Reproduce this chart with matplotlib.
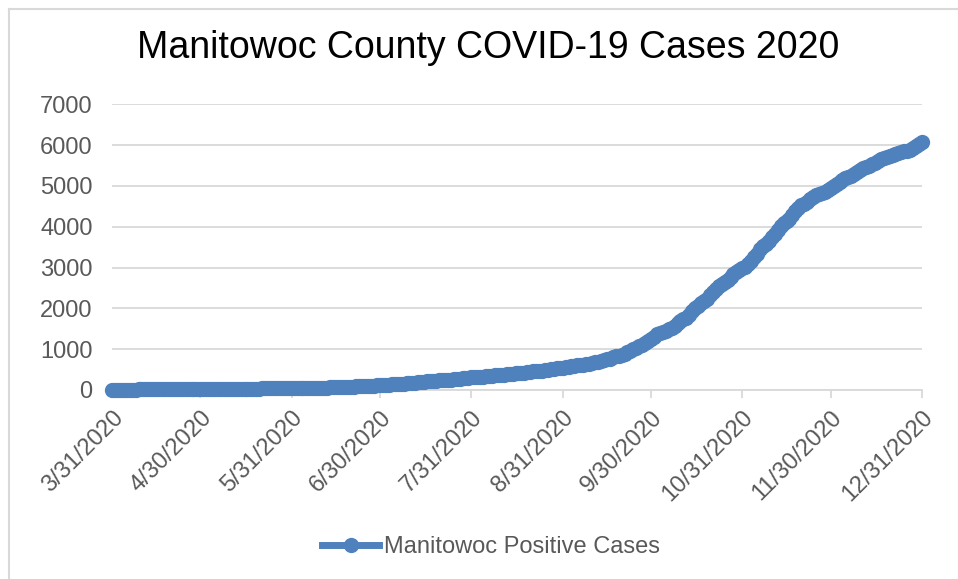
import matplotlib
matplotlib.use("Agg")
import matplotlib.pyplot as plt
import pandas as pd
from matplotlib.lines import Line2D

plt.rcParams['font.family'] = ['Liberation Sans', 'DejaVu Sans']

title = "Manitowoc County COVID-19 Cases 2020"
series_name = "Manitowoc Positive Cases"
start_date = "2020-03-31"
end_date = "2020-12-31"

mar = [5]
apr = [6, 7, 8, 9, 10, 11, 11, 12, 13, 14, 14, 15, 16, 16, 17, 18, 18, 19, 19, 20,
       21, 21, 22, 22, 23, 24, 24, 25, 26, 27]
may = [27, 28, 28, 29, 29, 30, 30, 31, 31, 31, 32, 32, 33, 33, 34, 34, 35, 35, 36, 36,
       37, 38, 38, 39, 40, 41, 41, 42, 43, 44, 45]
jun = [46, 47, 48, 50, 51, 52, 53, 55, 56, 58, 60, 61, 63, 65, 67, 70, 72, 75, 77, 80,
       83, 86, 89, 92, 95, 99, 103, 107, 112, 118]
jul = [124, 128, 131, 135, 139, 144, 150, 156, 162, 168, 174, 181, 188, 196, 205, 212,
       218, 223, 228, 233, 239, 245, 251, 257, 263, 270, 276, 283, 292, 300, 308]
aug = [313, 318, 323, 329, 336, 343, 350, 356, 361, 367, 374, 382, 391, 400, 408, 413,
       419, 427, 436, 445, 454, 462, 467, 474, 483, 493, 504, 516, 527, 536, 550]
sep = [560, 571, 583, 594, 603, 611, 620, 632, 646, 661, 676, 695, 712, 730, 750, 772,
       797, 822, 845, 866, 892, 920, 955, 995, 1035, 1075, 1110, 1145, 1195, 1250]
oct_ = [1310, 1365, 1405, 1430, 1455, 1495, 1530, 1580, 1640, 1700, 1735, 1775, 1850,
        1925, 2000, 2070, 2140, 2185, 2240, 2330, 2400, 2470, 2540, 2600, 2640, 2700,
        2770, 2840, 2900, 2950, 2985]
nov = [3020, 3090, 3170, 3250, 3340, 3450, 3540, 3590, 3640, 3740, 3830, 3920, 4010,
       4090, 4130, 4200, 4290, 4380, 4460, 4530, 4570, 4600, 4670, 4740, 4790, 4810,
       4840, 4860, 4890, 4950]
dec = [5000, 5050, 5100, 5150, 5190, 5210, 5250, 5290, 5340, 5390, 5440, 5470, 5490,
       5530, 5570, 5610, 5650, 5690, 5720, 5735, 5760, 5790, 5820, 5840, 5850, 5860,
       5880, 5920, 5970, 6020, 6080]

cases = mar + apr + may + jun + jul + aug + sep + oct_ + nov + dec
dates = pd.date_range(start_date, end_date, freq="D")

tick_dates = ["2020-03-31", "2020-04-30", "2020-05-31", "2020-06-30", "2020-07-31",
              "2020-08-31", "2020-09-30", "2020-10-31", "2020-11-30", "2020-12-31"]
tick_labels = ["3/31/2020", "4/30/2020", "5/31/2020", "6/30/2020", "7/31/2020",
               "8/31/2020", "9/30/2020", "10/31/2020", "11/30/2020", "12/31/2020"]
y_ticks = [0, 1000, 2000, 3000, 4000, 5000, 6000, 7000]

W, H = 958, 579
fig = plt.figure(figsize=(W / 100, H / 100), dpi=100)
fig.patch.set_facecolor("white")

# chart border (left and top edges visible)
fig.add_artist(Line2D([8.5 / W, 8.5 / W], [0, 1 - 8.5 / H], transform=fig.transFigure,
                      color="#d9d9d9", lw=1.5))
fig.add_artist(Line2D([8.5 / W, 1], [1 - 8.5 / H, 1 - 8.5 / H], transform=fig.transFigure,
                      color="#d9d9d9", lw=1.5))

left, right = 112, 922
top, bottom = 104.4, 390
ax = fig.add_axes([left / W, 1 - bottom / H, (right - left) / W, (bottom - top) / H])
ax.set_facecolor("white")

color = "#4F81BD"
line, = ax.plot(dates, cases, color=color, lw=5, marker="o", markersize=11,
                markeredgewidth=0, solid_capstyle="round", solid_joinstyle="round",
                clip_on=False, zorder=3, label=series_name)
line.set_snap(False)

ax.set_xlim(pd.Timestamp(start_date), pd.Timestamp(end_date))
ax.set_ylim(0, 7000)
ax.set_yticks(y_ticks)
ax.set_yticklabels([str(v) for v in y_ticks])
ax.grid(axis="y", color="#d9d9d9", lw=1.3, zorder=0)
ax.set_axisbelow(True)

ax.set_xticks([pd.Timestamp(d) for d in tick_dates])
ax.set_xticklabels(tick_labels, rotation=45, ha="right", va="top",
                   rotation_mode="anchor")

for s in ["top", "right", "left"]:
    ax.spines[s].set_visible(False)
ax.spines["bottom"].set_color("#d9d9d9")
ax.spines["bottom"].set_linewidth(1.3)
ax.spines["bottom"].set_zorder(1)

ax.tick_params(axis="y", length=0, pad=14, labelsize=17, labelcolor="#595959")
ax.tick_params(axis="x", length=6, width=1.3, color="#d9d9d9", pad=6, labelsize=17,
               labelcolor="#595959", direction="out")

fig.text(488 / W, 1 - 48 / H, title, ha="center", va="center", fontsize=27,
         color="black")

leg = fig.legend(handles=[Line2D([0], [0], color=color, lw=5, marker="o",
                                 markersize=11, markeredgewidth=0)],
                 labels=[series_name], loc="center", bbox_to_anchor=(491 / W, 1 - 547 / H),
                 frameon=False, fontsize=17, handlelength=2.4, handletextpad=0.2,
                 labelcolor="#595959")

fig.savefig("out.png", dpi=100, facecolor="white")
